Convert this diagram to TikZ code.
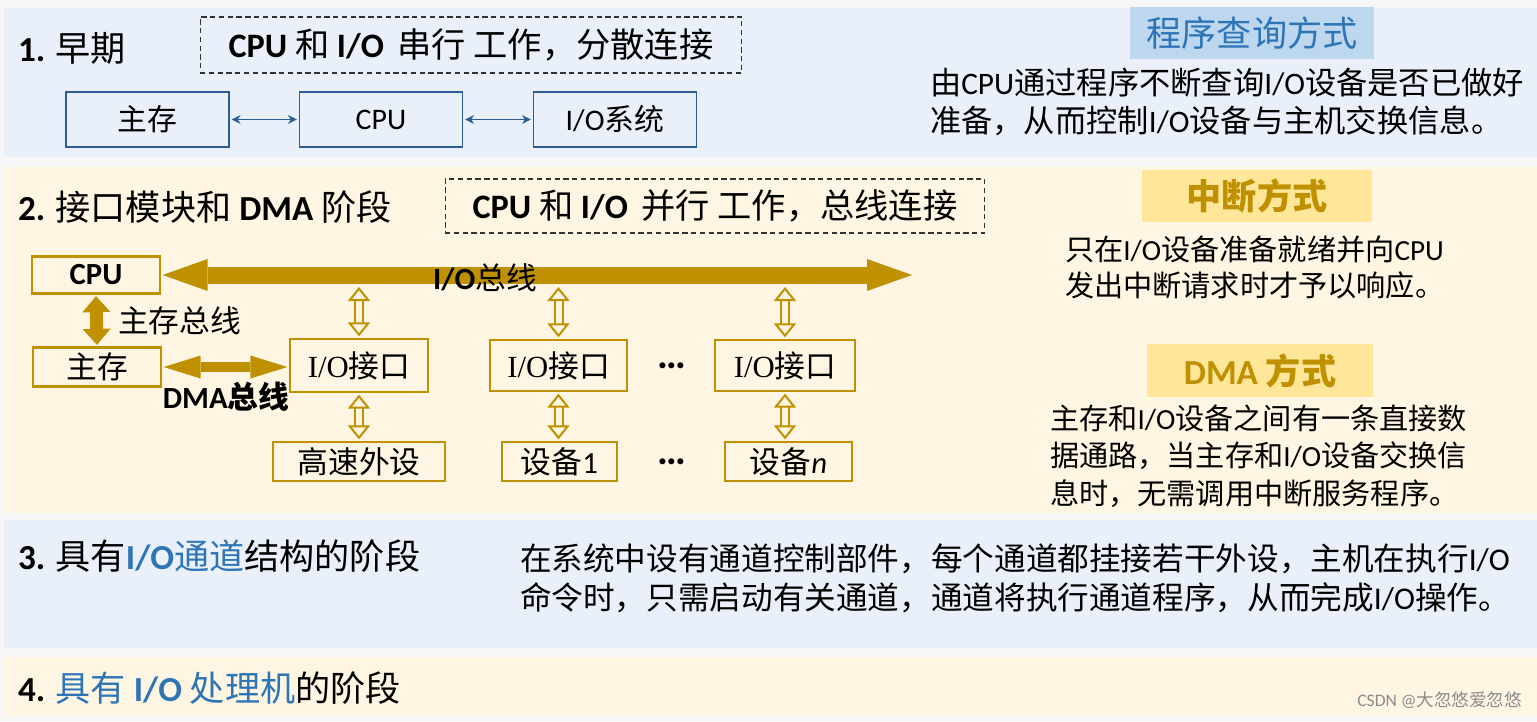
\documentclass[tikz,border=0pt]{standalone}
\usepackage{xcolor}
\usepackage{fontspec}
\setmainfont{Noto Sans CJK SC}
\newfontfamily\latin{Carlito}
\newfontfamily\latinserif{Liberation Serif}
\usepackage{tikz}
\usetikzlibrary{arrows.meta, positioning, calc}

\newcommand{\en}[1]{{\latin #1}}
\newcommand{\enb}[1]{{\latin\bfseries #1}}

\definecolor{pagegray}{HTML}{F6F6F6}
\definecolor{bandblue}{HTML}{E9F0F9}
\definecolor{bandcream}{HTML}{FEF6E3}
\definecolor{boxblue}{HTML}{2E5E98}
\definecolor{busgold}{HTML}{BF9000}
\definecolor{titleblue}{HTML}{2E75B6}
\definecolor{titlebluefill}{HTML}{BDD7EE}
\definecolor{titlegoldfill}{HTML}{FFE699}

\begin{document}
\begin{tikzpicture}[
    x=0.02cm, y=-0.02cm,
    every node/.style={inner sep=0pt, outer sep=0pt},
    heading/.style={anchor=west, font=\fontsize{20}{24}\selectfont},
    slogan/.style={draw=black!80, dash pattern=on 3pt off 2pt, line width=0.6pt, minimum width=10.84cm, minimum height=1.12cm, font=\fontsize{19.5}{24}\selectfont},
    bluebox/.style={rectangle, draw=boxblue, line width=1.1pt, fill=bandblue, minimum width=3.26cm, minimum height=1.1cm, outer sep=1.5pt, font=\fontsize{17}{20}\selectfont},
    goldbox/.style={rectangle, draw=busgold, line width=1.4pt, fill=bandcream, minimum height=0.78cm, outer sep=1.5pt, font=\fontsize{17.5}{20}\selectfont},
    titlebox/.style={rectangle, minimum height=1.05cm, font=\fontsize{20}{24}\selectfont},
    desc/.style={anchor=west, align=left, font=\fontsize{17.8}{21.5}\selectfont},
    buslabel/.style={font=\fontsize{17.5}{20}\selectfont},
    dots/.style={font=\latin\bfseries\fontsize{23}{26}\selectfont},
    thinarrow/.style={<->, >={Stealth[length=0.18cm, width=0.18cm]}, draw=boxblue, line width=0.6pt},
    busarrow/.style={<->, >={Triangle[length=0.9cm, width=0.64cm, line width=0pt]}, draw=busgold, line width=0.34cm},
    membus/.style={<->, >={Triangle[length=0.32cm, width=0.56cm, line width=0pt]}, draw=busgold, line width=0.26cm},
    dmabus/.style={<->, >={Triangle[length=0.74cm, width=0.46cm, line width=0pt]}, draw=busgold, line width=0.2cm},
    hollowarrow/.style={<->, >={Triangle[open, fill=bandcream, length=0.28cm, width=0.44cm, line width=0.04cm]}, draw=busgold, line width=0.04cm, double=bandcream, double distance=0.12cm}
]

% Page and bands
\useasboundingbox (0,0) rectangle (1537,721);
\fill[pagegray] (0,0) rectangle (1537,721);
\fill[bandblue] (4,8) rectangle (1537,157);
\fill[bandcream] (4,167) rectangle (1537,513);
\fill[bandblue] (4,520) rectangle (1537,648);
\fill[bandcream] (4,657) rectangle (1537,716);

% 1. early stage
\node[heading] (h1) at (18,48) {\enb{1.} 早期};
\node[slogan] (s1) at (471,45) {\enb{CPU} 和 \enb{I/O}\, 串行 工作，分散连接};

\node[bluebox] (mem1) at (147.5,119.5) {主存};
\node[bluebox] (cpu1) at (381,119.5) {\en{CPU}};
\node[bluebox] (io1) at (615,119.5) {\en{I/O}系统};
\draw[thinarrow] (mem1) -- (cpu1);
\draw[thinarrow] (cpu1) -- (io1);

\node[titlebox, fill=titlebluefill, text=titleblue, minimum width=4.88cm] (t1) at (1252,33) {程序查询方式};
\node[desc] (d1) at (930,102) {由\en{CPU}通过程序不断查询\en{I/O}设备是否已做好\\准备，从而控制\en{I/O}设备与主机交换信息。};

% 2. interface module and DMA
\node[heading] (h2) at (18,207) {\enb{2.} 接口模块和 \enb{DMA} 阶段};
\node[slogan, minimum width=10.8cm, minimum height=1.08cm] (s2) at (715,206) {\enb{CPU} 和 \enb{I/O}\, 并行 工作，总线连接};

\node[goldbox, minimum width=2.56cm, minimum height=0.74cm] (cpu2) at (96,275) {\enb{CPU}};
\node[goldbox, minimum width=2.56cm] (mem2) at (97,367) {主存};

\node[goldbox, minimum width=2.76cm, minimum height=1.06cm] (iface1) at (359,365.5) {{\latinserif I/O}接口};
\node[goldbox, minimum width=2.74cm, minimum height=1.02cm] (iface2) at (558.5,365.5) {{\latinserif I/O}接口};
\node[goldbox, minimum width=2.8cm, minimum height=1.02cm] (iface3) at (785,365.5) {{\latinserif I/O}接口};

\node[goldbox, minimum width=3.44cm] (dev0) at (359,461.5) {高速外设};
\node[goldbox, minimum width=2.3cm] (dev1) at (559.5,461.5) {设备\en{1}};
\node[goldbox, minimum width=2.54cm] (devn) at (788.5,461.5) {设备\en{\itshape n}};

\node[dots] (dots1) at (672,366) {…};
\node[dots] (dots2) at (672,462) {…};

% buses
\coordinate (busend) at (912,275);
\coordinate (busbase) at (0,287);
\draw[busarrow] (cpu2.east) -- (busend);
\node[buslabel] (iobus) at (485,278) {\enb{I/O}总线};
\draw[membus] (cpu2.south) -- (mem2.north);
\node[buslabel, anchor=west] (membuslabel) at (118,321) {主存总线};
\draw[dmabus] (mem2.east) -- (mem2.east -| iface1.west);
\node[buslabel] (dmabuslabel) at (226,397) {\enb{DMA}\textbf{总线}};

\foreach \n in {iface1,iface2,iface3}
    \draw[hollowarrow] (\n.north |- busbase) -- (\n.north);
\draw[hollowarrow] (iface1.south) -- (iface1.south |- dev0.north);
\draw[hollowarrow] (iface2.south) -- (iface2.south |- dev1.north);
\draw[hollowarrow] (iface3.south) -- (iface3.south |- devn.north);

\node[titlebox, fill=titlegoldfill, text=busgold, minimum width=4.6cm] (t2) at (1257,196) {\bfseries 中断方式};
\node[desc, font=\fontsize{16.6}{21}\selectfont] (d2) at (1065,267.5) {只在\en{I/O}设备准备就绪并向\en{CPU}\\发出中断请求时才予以响应。};
\node[titlebox, fill=titlegoldfill, text=busgold, minimum width=4.52cm] (t3) at (1260,370.5) {\enb{DMA} \bfseries 方式};
\node[desc, font=\fontsize{16.6}{21.5}\selectfont] (d3) at (1050,456) {主存和\en{I/O}设备之间有一条直接数\\据通路，当主存和\en{I/O}设备交换信\\息时，无需调用中断服务程序。};

% 3. channel stage
\node[heading] (h3) at (18,556) {\enb{3.} 具有\textcolor{titleblue}{\enb{I/O}通道}结构的阶段};
\node[desc, font=\fontsize{18}{22.1}\selectfont] (d4) at (520,578.5) {在系统中设有通道控制部件，每个通道都挂接若干外设，主机在执行\en{I/O}\\命令时，只需启动有关通道，通道将执行通道程序，从而完成\en{I/O}操作。};

% 4. processor stage
\node[heading] (h4) at (18,688) {\enb{4.} \textcolor{titleblue}{具有 \enb{I/O} 处理机}的阶段};
\node[anchor=east, text=black!45, font=\fontsize{10}{12}\selectfont] (mark) at (1522,700) {\en{CSDN @}大忽悠爱忽悠};

\end{tikzpicture}
\end{document}
